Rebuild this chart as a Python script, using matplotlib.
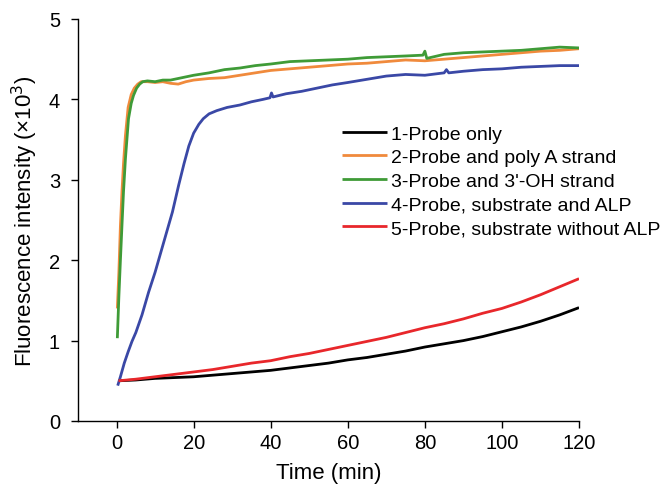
import matplotlib
matplotlib.use("Agg")
import matplotlib.pyplot as plt

plt.rcParams['font.family'] = ['Liberation Sans', 'DejaVu Sans']

# Fluorescence kinetics (intensity in units of 10^3), time in minutes
t1 = [0.5, 5, 10, 15, 20, 25, 30, 35, 40, 45, 50, 55, 60, 65, 70, 75, 80, 85,
      90, 95, 100, 105, 110, 115, 120]
y1 = [0.50, 0.51, 0.53, 0.54, 0.55, 0.57, 0.59, 0.61, 0.63, 0.66, 0.69, 0.72,
      0.76, 0.79, 0.83, 0.87, 0.92, 0.96, 1.00, 1.05, 1.11, 1.17, 1.24, 1.32, 1.41]

t2 = [0.2, 0.6, 1.0, 1.4, 1.8, 2.3, 3.0, 3.8, 4.6, 5.5, 6.4, 8, 10, 12, 14, 16,
      18, 20, 24, 28, 32, 36, 40, 45, 50, 55, 60, 65, 70, 75, 80, 85, 90, 95,
      100, 105, 110, 115, 120]
y2 = [1.40, 1.85, 2.43, 2.85, 3.20, 3.55, 3.90, 4.06, 4.14, 4.19, 4.22, 4.22,
      4.21, 4.22, 4.20, 4.19, 4.22, 4.24, 4.26, 4.27, 4.30, 4.33, 4.36, 4.38,
      4.40, 4.42, 4.44, 4.45, 4.47, 4.49, 4.48, 4.50, 4.52, 4.54, 4.56, 4.58,
      4.60, 4.61, 4.63]

t3 = [0.2, 0.6, 1.0, 1.4, 1.8, 2.3, 3.1, 3.8, 4.4, 5.2, 6.0, 6.8, 8, 10, 12,
      14, 16, 20, 24, 28, 32, 36, 40, 45, 50, 55, 60, 65, 70, 75, 79.5, 80,
      80.5, 85, 90, 95, 100, 105, 110, 115, 120]
y3 = [1.03, 1.55, 2.00, 2.43, 2.85, 3.26, 3.76, 3.95, 4.05, 4.14, 4.19, 4.22,
      4.23, 4.22, 4.24, 4.24, 4.26, 4.30, 4.33, 4.37, 4.39, 4.42, 4.44, 4.47,
      4.48, 4.49, 4.50, 4.52, 4.53, 4.54, 4.55, 4.60, 4.51, 4.56, 4.58, 4.59,
      4.60, 4.61, 4.63, 4.65, 4.64]

t4 = [0.3, 1, 2, 3, 4, 5, 6.6, 8.3, 10, 12.7, 14.5, 16.1, 17.5, 18.75, 20,
      21.35, 22.5, 24, 26, 28.7, 32, 35, 38, 39.8, 40.2, 40.6, 44, 48, 52, 56,
      60, 65, 70, 75, 80, 85, 85.6, 86.2, 90, 95, 100, 105, 110, 115, 120]
y4 = [0.44, 0.55, 0.72, 0.86, 0.99, 1.10, 1.32, 1.60, 1.85, 2.30, 2.60, 2.93,
      3.20, 3.42, 3.58, 3.69, 3.76, 3.82, 3.86, 3.90, 3.93, 3.97, 4.00, 4.02,
      4.08, 4.03, 4.07, 4.10, 4.14, 4.18, 4.21, 4.25, 4.29, 4.31, 4.30, 4.33,
      4.37, 4.33, 4.35, 4.37, 4.38, 4.40, 4.41, 4.42, 4.42]

t5 = [0.5, 5, 10, 15, 20, 25, 30, 35, 40, 45, 50, 55, 60, 65, 70, 75, 80, 85,
      90, 95, 100, 105, 110, 115, 120]
y5 = [0.50, 0.52, 0.55, 0.58, 0.61, 0.64, 0.68, 0.72, 0.75, 0.80, 0.84, 0.89,
      0.94, 0.99, 1.04, 1.10, 1.16, 1.21, 1.27, 1.34, 1.40, 1.48, 1.57, 1.67, 1.77]

labels = ["1-Probe only", "2-Probe and poly A strand", "3-Probe and 3'-OH strand",
          "4-Probe, substrate and ALP", "5-Probe, substrate without ALP"]
colors = ["#000000", "#F08A3C", "#3F9B37", "#3A48A6", "#E8272B"]

x_ticks = [0, 20, 40, 60, 80, 100, 120]
y_ticks = [0, 1, 2, 3, 4, 5]

fig = plt.figure(figsize=(6.68, 4.85), dpi=100)
ax = fig.add_axes([0.1168, 0.1299, 0.75, 0.8289])

series = [(t1, y1), (t2, y2), (t3, y3), (t4, y4), (t5, y5)]
for (t, y), lab, c in zip(series, labels, colors):
    ax.plot(t, y, color=c, lw=2.0, label=lab, solid_capstyle='butt')

ax.set_xlim(-10, 120)
ax.set_ylim(0, 5)
ax.set_xticks(x_ticks)
ax.set_yticks(y_ticks)
ax.spines['top'].set_visible(False)
ax.spines['right'].set_visible(False)
for s in ('left', 'bottom'):
    ax.spines[s].set_linewidth(1.0)
ax.tick_params(direction='out', length=5, width=1.0, labelsize=14.5)
ax.tick_params(axis='x', pad=4)
ax.tick_params(axis='y', pad=8)

ax.set_xlabel("Time (min)", fontsize=16, labelpad=7)
ax.set_ylabel("Fluorescence intensity (×10$^3$)", fontsize=16, labelpad=6)

ax.legend(loc='upper left', bbox_to_anchor=(342 / 668, 1 - 126 / 485),
          bbox_transform=fig.transFigure, frameon=False,
          fontsize=14, handlelength=2.3, handletextpad=0.2, labelspacing=0.31,
          borderaxespad=0, borderpad=0)

fig.savefig("out.png", dpi=100)
